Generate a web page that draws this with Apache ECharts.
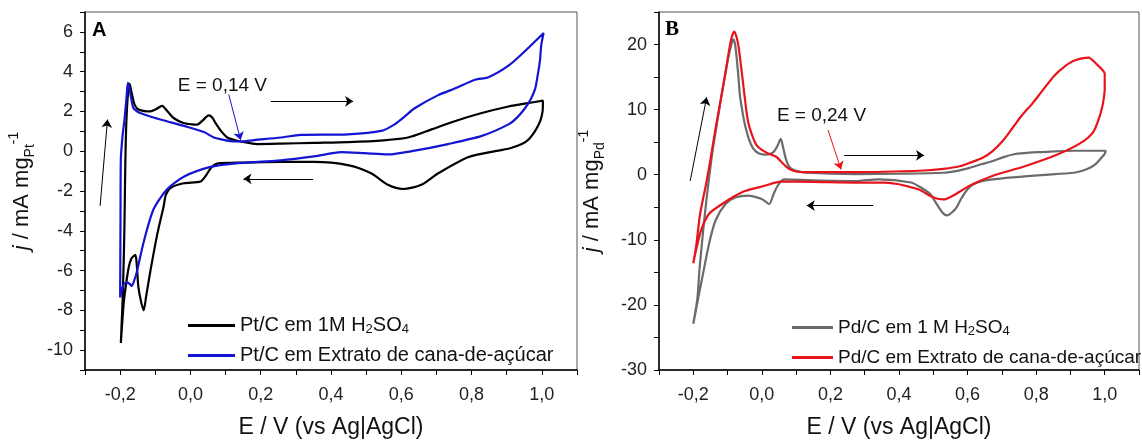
<!DOCTYPE html>
<html>
<head>
<meta charset="utf-8">
<script src="https://cdn.jsdelivr.net/npm/echarts@6/dist/echarts.min.js"></script>
<style>
  html, body { margin: 0; padding: 0; background: #fff; }
  #cv { width: 1142px; height: 444px; }
</style>
</head>
<body>
<div id="cv"></div>
<script>
// E (V vs Ag|AgCl), j (mA mg-1)
var ptAcid = [[-0.198,-9.64],[-0.192,-7.0],[-0.188,-4.0],[-0.186,-1.5],[-0.184,0.5],[-0.181,2.0],[-0.177,3.0],[-0.173,3.39],
  [-0.168,3.0],[-0.160,2.4],[-0.152,2.15],[-0.145,2.08],[-0.130,2.02],[-0.114,2.0],[-0.097,2.12],[-0.081,2.28],[-0.065,2.0],
  [-0.048,1.67],[-0.020,1.42],[0.005,1.35],[0.019,1.34],[0.035,1.55],[0.052,1.80],[0.062,1.70],[0.071,1.43],[0.088,1.0],
  [0.105,0.69],[0.125,0.56],[0.143,0.49],[0.190,0.36],[0.257,0.38],[0.350,0.42],[0.450,0.46],[0.550,0.55],[0.619,0.69],
  [0.686,1.10],[0.752,1.51],[0.829,1.92],[0.905,2.25],[0.960,2.42],[1.003,2.54],
  [1.002,2.0],[0.995,1.5],[0.981,1.02],[0.963,0.6],[0.943,0.36],[0.910,0.15],[0.876,0.03],[0.790,-0.30],[0.705,-1.11],
  [0.657,-1.69],[0.605,-1.90],[0.562,-1.69],[0.514,-1.11],[0.448,-0.70],[0.352,-0.54],[0.257,-0.54],[0.150,-0.57],
  [0.076,-0.62],[0.060,-0.8],[0.045,-1.2],[0.029,-1.52],[-0.019,-1.61],[-0.057,-1.85],[-0.070,-2.2],[-0.076,-2.75],
  [-0.095,-4.23],[-0.114,-6.03],[-0.126,-7.3],[-0.133,-8.0],[-0.140,-7.6],[-0.148,-6.85],[-0.157,-5.21],[-0.168,-5.4],
  [-0.176,-5.87],[-0.184,-6.8],[-0.190,-7.67],[-0.198,-9.64]];

var ptCane = [[-0.200,-7.35],[-0.199,-3.5],[-0.198,-0.38],[-0.193,0.8],[-0.188,1.53],[-0.182,2.68],[-0.178,3.44],[-0.174,3.2],
  [-0.168,2.6],[-0.162,2.16],[-0.152,2.0],[-0.143,1.92],[-0.110,1.72],[-0.067,1.51],[0.000,1.18],[0.040,0.95],[0.067,0.69],
  [0.095,0.57],[0.124,0.49],[0.150,0.50],[0.181,0.56],[0.257,0.69],[0.314,0.82],[0.448,0.85],[0.543,1.02],[0.581,1.35],
  [0.610,1.75],[0.638,2.16],[0.705,2.82],[0.752,3.15],[0.810,3.59],[0.848,3.72],[0.905,4.30],[0.952,5.03],[1.005,5.94],
  [0.998,5.3],[0.995,4.62],[0.988,3.8],[0.981,3.15],[0.968,2.6],[0.952,2.16],[0.930,1.7],[0.905,1.35],[0.829,0.77],
  [0.733,0.36],[0.638,0.03],[0.562,-0.16],[0.495,-0.10],[0.429,-0.05],[0.352,-0.26],[0.257,-0.46],[0.124,-0.62],
  [0.057,-0.79],[-0.019,-1.28],[-0.067,-1.93],[-0.105,-2.92],[-0.133,-4.56],[-0.152,-6.03],[-0.160,-6.5],[-0.167,-6.77],
  [-0.174,-6.65],[-0.181,-6.61],[-0.190,-6.69],[-0.200,-7.35]];

var pdAcid = [[-0.200,-22.9],[-0.188,-19.0],[-0.182,-14.6],[-0.172,-9.0],[-0.163,-4.5],[-0.154,-0.5],[-0.144,3.6],
  [-0.130,8.2],[-0.116,12.7],[-0.105,16.0],[-0.097,18.2],[-0.088,20.2],[-0.083,20.8],[-0.078,20.0],[-0.073,17.7],
  [-0.068,14.8],[-0.064,12.2],[-0.056,9.5],[-0.049,7.6],[-0.038,5.5],[-0.026,4.1],[-0.010,3.3],[0.008,3.1],[0.025,3.2],
  [0.036,3.6],[0.046,4.5],[0.055,5.5],[0.062,4.2],[0.069,2.6],[0.076,1.6],[0.083,1.06],[0.100,0.6],[0.131,0.3],
  [0.274,0.1],[0.400,0.15],[0.530,0.3],[0.570,0.6],[0.606,1.06],[0.640,1.6],[0.672,2.07],[0.705,2.7],[0.739,3.18],
  [0.780,3.4],[0.815,3.48],[0.910,3.68],[1.003,3.68],
  [1.000,3.2],[0.990,2.58],[0.975,1.7],[0.957,1.06],[0.935,0.6],[0.910,0.3],[0.815,-0.05],[0.720,-0.45],[0.644,-0.95],
  [0.615,-1.5],[0.596,-2.5],[0.580,-3.8],[0.568,-5.0],[0.554,-5.8],[0.540,-6.26],[0.528,-5.9],[0.516,-5.0],[0.504,-4.0],
  [0.492,-3.0],[0.465,-2.0],[0.435,-1.2],[0.340,-0.7],[0.274,-0.96],[0.150,-0.85],[0.065,-0.7],[0.056,-1.0],[0.046,-1.7],
  [0.034,-3.0],[0.022,-4.5],[0.010,-4.1],[-0.002,-3.7],[-0.040,-3.2],[-0.078,-3.5],[-0.106,-4.5],[-0.135,-7.0],
  [-0.154,-10.6],[-0.173,-15.6],[-0.188,-19.6],[-0.200,-22.9]];

var pdCane = [[-0.200,-13.6],[-0.192,-11.1],[-0.180,-6.0],[-0.163,-1.5],[-0.150,2.3],[-0.135,7.1],[-0.120,11.5],
  [-0.106,15.7],[-0.095,19.3],[-0.087,21.3],[-0.080,22.0],[-0.074,21.2],[-0.068,19.7],[-0.061,16.8],[-0.054,13.7],
  [-0.047,10.6],[-0.040,8.1],[-0.028,6.0],[-0.016,4.6],[0.000,3.8],[0.017,3.3],[0.041,2.8],[0.060,1.8],[0.072,1.2],
  [0.083,0.8],[0.100,0.5],[0.131,0.4],[0.274,0.4],[0.473,0.65],[0.530,0.9],[0.577,1.3],[0.610,1.9],[0.644,2.6],
  [0.672,3.6],[0.701,5.1],[0.730,7.1],[0.758,9.1],[0.790,11.0],[0.815,12.7],[0.853,15.2],[0.880,16.5],[0.910,17.5],
  [0.953,18.0],[0.976,17.0],[1.000,15.5],
  [1.000,13.2],[0.995,11.0],[0.986,9.1],[0.967,6.6],[0.929,4.85],[0.862,3.1],[0.767,1.3],[0.672,-0.2],[0.606,-1.7],
  [0.558,-3.2],[0.530,-3.8],[0.501,-3.5],[0.454,-2.2],[0.359,-1.2],[0.274,-1.2],[0.150,-1.1],[0.055,-1.06],[0.008,-1.7],
  [-0.049,-2.5],[-0.080,-3.3],[-0.116,-4.5],[-0.154,-6.0],[-0.177,-8.5],[-0.192,-11.6],[-0.200,-13.6]];

var namesA = ['Pt/C em 1M H2SO4', 'Pt/C em Extrato de cana-de-açúcar'];
var namesB = ['Pd/C em 1 M H2SO4', 'Pd/C em Extrato de cana-de-açúcar'];
var legendText = {
  'Pt/C em 1M H2SO4': 'Pt/C em 1M H{sub|2}SO{sub|4}',
  'Pd/C em 1 M H2SO4': 'Pd/C em 1 M H{sub|2}SO{sub|4}'
};

var FONT = '"Liberation Sans", Arial, sans-serif';
var chart = echarts.init(document.getElementById('cv'));

function xLabel(v) {
  var k = Math.round(v * 10);
  if (k % 2 !== 0) return '';
  return (k / 10).toFixed(1).replace('.', ',');
}

function xAxisCfg(idx) {
  return {
    type: 'value', gridIndex: idx, min: -0.3, max: 1.1, interval: 0.1,
    name: 'E / V (vs Ag|AgCl)', nameLocation: 'middle', nameGap: 46,
    nameTextStyle: { fontFamily: FONT, fontSize: 23, color: '#111' },
    axisLine: { onZero: false, lineStyle: { color: '#000', width: 1.5 } },
    axisTick: { length: 5, lineStyle: { color: '#000' } },
    axisLabel: { formatter: xLabel, fontFamily: FONT, fontSize: 18, color: '#222', margin: 16 },
    splitLine: { show: false }
  };
}

function yAxisCfg(idx, min, max, step, labelStep, metal, gap) {
  return {
    type: 'value', gridIndex: idx, min: min, max: max, interval: step,
    name: '{i|j} / mA mg{sub|' + metal + '}{sup|-1}', nameLocation: 'middle', nameRotate: 90, nameGap: gap,
    nameTextStyle: {
      fontFamily: FONT, fontSize: 22, color: '#111', lineHeight: 30,
      rich: {
        i: { fontFamily: FONT, fontSize: 22, fontStyle: 'italic', lineHeight: 30 },
        sub: { fontFamily: FONT, fontSize: 14, verticalAlign: 'bottom', lineHeight: 14 },
        sup: { fontFamily: FONT, fontSize: 14, verticalAlign: 'top', lineHeight: 14 }
      }
    },
    axisLine: { onZero: false, lineStyle: { color: '#000', width: 1.5 } },
    axisTick: { length: 5, lineStyle: { color: '#000' } },
    axisLabel: {
      fontFamily: FONT, fontSize: 18, color: '#222', margin: 12,
      formatter: function (v) { return Math.round(v) % labelStep === 0 ? String(Math.round(v)) : ''; }
    },
    splitLine: { show: false }
  };
}

function curve(name, data, color, xi) {
  return {
    name: name, type: 'line', data: data, xAxisIndex: xi, yAxisIndex: xi,
    symbol: 'none', smooth: 0.25, clip: false,
    lineStyle: { color: color, width: 2.2 }, itemStyle: { color: color },
    silent: true, animation: false
  };
}

function arrow(x1, y1, x2, y2, color) {
  return [{ coord: [x1, y1], lineStyle: { color: color, width: 1, type: 'solid' } }, { coord: [x2, y2] }];
}

function legendCfg(left, top, names, size, w) {
  return {
    data: names, orient: 'vertical', left: left, top: top, padding: 0,
    itemWidth: w, itemHeight: 3, itemGap: 9, icon: 'rect',
    formatter: function (n) { return legendText[n] || n; },
    textStyle: {
      fontFamily: FONT, fontSize: size, color: '#111', lineHeight: 21,
      rich: { sub: { fontFamily: FONT, fontSize: 13, verticalAlign: 'bottom', lineHeight: 13 } }
    }
  };
}

var sA1 = curve(namesA[0], ptAcid, '#000000', 0);
var sA2 = curve(namesA[1], ptCane, '#1414d2', 0);
var sB1 = curve(namesB[0], pdAcid, '#6b6b6b', 1);
var sB2 = curve(namesB[1], pdCane, '#e8141c', 1);

sA1.markLine = {
  silent: true, symbol: ['none', 'arrow'], symbolSize: 8, label: { show: false },
  data: [
    arrow(-0.257, -2.75, -0.236, 1.59, '#000'),
    arrow(0.229, 2.51, 0.463, 2.51, '#000'),
    arrow(0.349, -1.39, 0.151, -1.39, '#000'),
    arrow(0.109, 2.85, 0.143, 0.56, '#1414d2')
  ]
};
sA1.markPoint = {
  silent: true, symbol: 'circle', symbolSize: 0,
  data: [{ coord: [0.091, 3.3], label: { show: true, position: 'inside', formatter: 'E = 0,14 V', fontFamily: FONT, fontSize: 19, color: '#111' } }]
};
sB1.markLine = {
  silent: true, symbol: ['none', 'arrow'], symbolSize: 8, label: { show: false },
  data: [
    arrow(-0.209, -0.95, -0.161, 11.9, '#000'),
    arrow(0.24, 2.98, 0.473, 2.98, '#000'),
    arrow(0.325, -4.74, 0.131, -4.74, '#000'),
    arrow(0.193, 6.86, 0.231, 0.8, '#e8141c')
  ]
};
sB1.markPoint = {
  silent: true, symbol: 'circle', symbolSize: 0,
  data: [{ coord: [0.174, 9.1], label: { show: true, position: 'inside', formatter: 'E = 0,24 V', fontFamily: FONT, fontSize: 19, color: '#111' } }]
};

var option = {
  backgroundColor: '#fff',
  animation: false,
  grid: [
    { left: 85, top: 12, width: 492, height: 365, show: true, borderColor: '#555', borderWidth: 1 },
    { left: 659, top: 12, width: 491, height: 365, show: true, borderColor: '#555', borderWidth: 1 }
  ],
  xAxis: [xAxisCfg(0), xAxisCfg(1)],
  yAxis: [yAxisCfg(0, -11, 7, 1, 2, 'Pt', 48), yAxisCfg(1, -30, 25, 5, 10, 'Pd', 52)],
  legend: [legendCfg(188, 315, namesA, 20, 47), legendCfg(792, 317, namesB, 19, 41)],
  graphic: [
    { type: 'text', left: 92, top: 20, style: { text: 'A', font: 'bold 20px ' + FONT, fill: '#000' } },
    { type: 'text', left: 665, top: 19, style: { text: 'B', font: 'bold 21px "Liberation Serif", "Times New Roman", serif', fill: '#000' } }
  ],
  series: [sA1, sA2, sB1, sB2]
};

chart.setOption(option);
window.addEventListener('resize', function () { chart.resize(); });
</script>
</body>
</html>
